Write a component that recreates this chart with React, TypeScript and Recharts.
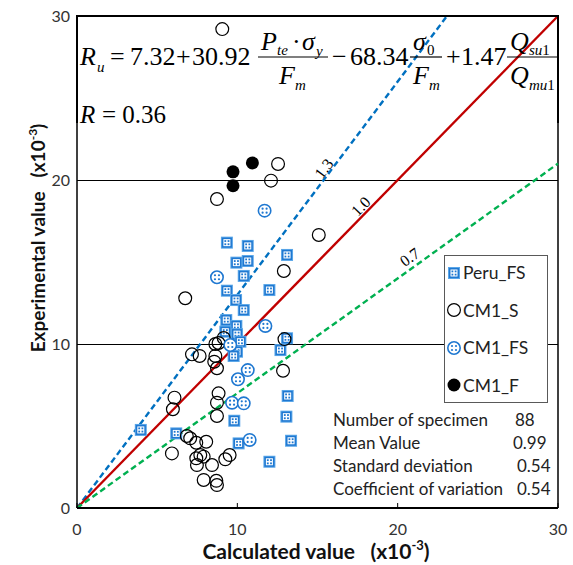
import React from "react";
import {
  ScatterChart,
  Scatter,
  XAxis,
  YAxis,
  CartesianGrid,
  ReferenceLine,
  ReferenceDot,
  Legend,
} from "recharts";

// Points are [calculated, experimental], both in units of 1e-3
const peruFS: [number, number][] = [
  [9.35, 16.18], [10.65, 15.98], [9.94, 14.96], [10.65, 15.06], [13.1, 15.43],
  [10.4, 14.15], [9.35, 13.25], [12.0, 13.29], [9.92, 12.68], [10.4, 12.07],
  [9.31, 11.46], [9.94, 11.1], [9.25, 10.75], [9.98, 10.6], [10.19, 10.14],
  [9.98, 9.53], [9.77, 9.27], [13.1, 10.35], [12.69, 9.63], [13.14, 6.83],
  [13.06, 5.57], [13.35, 4.1], [12.0, 2.82], [9.81, 5.32], [10.08, 3.94],
  [3.98, 4.76], [6.19, 4.55],
];

const cm1S: [number, number][] = [
  [9.06, 29.2], [12.54, 20.98], [12.1, 19.96], [8.73, 18.84], [15.08, 16.65],
  [12.9, 14.45], [6.75, 12.79], [12.94, 10.3], [12.85, 8.37], [7.17, 9.37],
  [7.65, 9.27], [8.63, 10.0], [8.83, 10.06], [9.15, 10.37], [8.63, 9.27],
  [8.56, 8.92], [8.73, 8.52], [6.08, 6.73], [5.98, 6.02], [8.83, 6.99],
  [8.73, 6.42], [8.73, 5.61], [5.92, 3.33], [6.85, 4.39], [7.06, 4.25],
  [7.44, 3.98], [8.06, 4.04], [7.44, 3.03], [7.69, 3.23], [7.9, 3.13],
  [7.48, 2.62], [8.42, 2.62], [9.25, 2.97], [9.52, 3.23], [7.9, 1.71],
  [8.69, 1.66], [8.73, 1.4],
];

const cm1FS: [number, number][] = [
  [11.7, 18.13], [8.73, 14.07], [11.75, 11.1], [9.56, 9.94], [10.65, 8.41],
  [10.04, 7.85], [9.67, 6.42], [10.4, 6.38], [10.77, 4.15],
];

const cm1F: [number, number][] = [
  [9.73, 20.5], [9.73, 19.65], [10.94, 21.04],
];

const axisTicks = [0, 10, 20, 30];

// ratio lines y = k·x, with where their tags sit
const ratios = [
  { k: 1.3, label: "1.3", color: "#0070c0", dash: "6 3.5", tagX: 15.4, tagY: 20.7, rot: -53 },
  { k: 1.0, label: "1.0", color: "#c00000", dash: undefined, tagX: 17.7, tagY: 18.4, rot: -45.7 },
  { k: 0.7, label: "0.7", color: "#00b050", dash: "6 3.5", tagX: 20.75, tagY: 15.3, rot: -35.6 },
];

const statNames = ["Number of specimen", "Mean Value", "Standard deviation", "Coefficient of variation"];
const statValues = ["88", "0.99", "0.54", "0.54"];

const toRows = (pts: [number, number][]) => pts.map(([x, y]) => ({ x, y }));

const BLUE = "#1f78d1";

function PeruMark({ cx, cy }: any) {
  return (
    <g transform={`translate(${cx},${cy})`}>
      <rect x={-6} y={-6} width={12} height={12} fill="#5aa6e8" />
      <rect x={-5} y={-5} width={10} height={10} fill={BLUE} />
      <rect x={-3.5} y={-3.5} width={7} height={7} fill="#fff" />
      <rect x={-2.5} y={-2.5} width={1.8} height={1.8} fill={BLUE} />
      <rect x={0.7} y={-2.5} width={1.8} height={1.8} fill={BLUE} />
      <rect x={-2.5} y={0.7} width={1.8} height={1.8} fill={BLUE} />
      <rect x={0.7} y={0.7} width={1.8} height={1.8} fill={BLUE} />
    </g>
  );
}

function OpenMark({ cx, cy }: any) {
  return <circle cx={cx} cy={cy} r={6.4} fill="none" stroke="#000" strokeWidth={1.2} />;
}

function DotCircleMark({ cx, cy }: any) {
  return (
    <g transform={`translate(${cx},${cy})`}>
      <circle r={6.2} fill="#fff" stroke={BLUE} strokeWidth={1.6} />
      <circle cx={-2} cy={-2} r={1.1} fill={BLUE} />
      <circle cx={2} cy={-2} r={1.1} fill={BLUE} />
      <circle cx={-2} cy={2} r={1.1} fill={BLUE} />
      <circle cx={2} cy={2} r={1.1} fill={BLUE} />
    </g>
  );
}

function FilledMark({ cx, cy }: any) {
  return <circle cx={cx} cy={cy} r={6.5} fill="#000" />;
}

const legendItems = [
  { name: "Peru_FS", Mark: PeruMark },
  { name: "CM1_S", Mark: OpenMark },
  { name: "CM1_FS", Mark: DotCircleMark },
  { name: "CM1_F", Mark: FilledMark },
];

function LegendBox() {
  return (
    <div
      style={{
        width: 104,
        height: 148,
        border: "1px solid #595959",
        background: "#fff",
        boxSizing: "border-box",
      }}
    >
      {legendItems.map(({ name, Mark }) => (
        <div key={name} style={{ display: "flex", alignItems: "center", height: 37.5, marginTop: name === "Peru_FS" ? -2 : 0 }}>
          <svg width={16} height={16} style={{ marginLeft: 1 }}>
            <Mark cx={8} cy={8} />
          </svg>
          <span style={{ fontFamily: "Lato", fontSize: 17.5, color: "#222", marginLeft: 1 }}>{name}</span>
        </div>
      ))}
    </div>
  );
}

function RatioTag({ viewBox, text, rot }: any) {
  const x = viewBox.x + (viewBox.width || 0) / 2;
  const y = viewBox.y + (viewBox.height || 0) / 2;
  return (
    <text
      x={x}
      y={y}
      transform={`rotate(${rot} ${x} ${y})`}
      textAnchor="middle"
      dominantBaseline="central"
      fontFamily="Liberation Serif"
      fontSize={16}
      fill="#000"
    >
      {text}
    </text>
  );
}

const serif = "Liberation Serif";

function Formula() {
  const big = 26;
  const sub = 15;
  return (
    <g fontFamily={serif} fill="#000">
      <text x={80} y={65} fontSize={big} fontStyle="italic">R</text>
      <text x={97} y={72} fontSize={sub} fontStyle="italic">u</text>
      <text x={110} y={65} fontSize={big}>=</text>
      <text x={130} y={65} fontSize={big}>7.32</text>
      <text x={176} y={65} fontSize={big}>+</text>
      <text x={192} y={65} fontSize={big}>30.92</text>

      <line x1={258} x2={328} y1={57} y2={57} stroke="#000" strokeWidth={1.2} />
      <text x={261} y={50} fontSize={big} fontStyle="italic">P</text>
      <text x={277} y={55} fontSize={sub} fontStyle="italic">te</text>
      <text x={292} y={50} fontSize={big}>·</text>
      <text x={302} y={50} fontSize={big} fontStyle="italic">σ</text>
      <text x={316} y={56} fontSize={sub} fontStyle="italic">y</text>
      <text x={279} y={84} fontSize={big} fontStyle="italic">F</text>
      <text x={295} y={90} fontSize={sub} fontStyle="italic">m</text>

      <text x={332} y={65} fontSize={big}>−</text>
      <text x={350} y={65} fontSize={big}>68.34</text>

      <line x1={410} x2={442} y1={57} y2={57} stroke="#000" strokeWidth={1.2} />
      <text x={413} y={50} fontSize={big} fontStyle="italic">σ</text>
      <text x={427} y={55} fontSize={sub}>0</text>
      <text x={413} y={84} fontSize={big} fontStyle="italic">F</text>
      <text x={429} y={90} fontSize={sub} fontStyle="italic">m</text>

      <text x={446} y={65} fontSize={big}>+</text>
      <text x={461} y={65} fontSize={big}>1.47</text>

      <line x1={507} x2={557} y1={57} y2={57} stroke="#000" strokeWidth={1.2} />
      <text x={510} y={50} fontSize={big} fontStyle="italic">Q</text>
      <text x={529} y={55} fontSize={sub} fontStyle="italic">su<tspan fontStyle="normal">1</tspan></text>
      <text x={510} y={84} fontSize={big} fontStyle="italic">Q</text>
      <text x={529} y={90} fontSize={sub} fontStyle="italic">mu<tspan fontStyle="normal">1</tspan></text>

      <text x={80} y={123} fontSize={25} fontStyle="italic">R</text>
      <text x={102} y={123} fontSize={25}>= 0.36</text>
    </g>
  );
}

function Overlay() {
  return (
    <svg
      width={573}
      height={565}
      style={{ position: "absolute", left: 0, top: 0, pointerEvents: "none" }}
    >
      {/* frame of the equation box on top of the plot border */}
      <path d="M77,123 V16 H558 V123" fill="none" stroke="#000" strokeWidth={2} />
      <Formula />

      <g fontFamily="Lato" fontSize={17} fill="#222">
        {statNames.map((n, i) => (
          <text key={n} x={333} y={426 + i * 23}>{n}</text>
        ))}
        {statValues.map((v, i) => (
          <text key={i} x={i === 0 ? 515 : i === 1 ? 513 : 517} y={426 + i * 23}>{v}</text>
        ))}
      </g>

      <text x={316} y={559} textAnchor="middle" fontFamily="Lato" fontWeight="bold" fontSize={21} fill="#111">
        Calculated value{"\u00a0\u00a0\u00a0"}(x10<tspan fontSize={13} dy={-9}>-3</tspan>
        <tspan dy={9}>)</tspan>
      </text>
      <text
        x={45}
        y={238}
        transform="rotate(-90 45 238)"
        textAnchor="middle"
        fontFamily="Lato"
        fontWeight="bold"
        fontSize={19}
        fill="#111"
      >
        Experimental value{"\u00a0\u00a0\u00a0"}(x10<tspan fontSize={12} dy={-8}>-3</tspan>
        <tspan dy={8}>)</tspan>
      </text>
    </svg>
  );
}

export default function App() {
  return (
    <div style={{ position: "absolute", left: 0, top: 0, width: 573, height: 565, background: "#fff" }}>
      <ScatterChart width={573} height={565} margin={{ top: 16, right: 15, bottom: 0, left: 0 }}>
        <CartesianGrid vertical={false} stroke="#000" strokeWidth={1} shapeRendering="crispEdges" />
        <XAxis
          type="number"
          dataKey="x"
          domain={[0, 30]}
          ticks={axisTicks}
          height={57}
          tickSize={-5}
          tickMargin={21}
          axisLine={{ stroke: "#000", strokeWidth: 2 }}
          tickLine={{ stroke: "#000" }}
          tick={{ fill: "#333", fontSize: 16, fontFamily: "Lato" }}
          allowDataOverflow
        />
        <YAxis
          type="number"
          dataKey="y"
          domain={[0, 30]}
          ticks={axisTicks}
          width={77}
          tickSize={0}
          tickMargin={7}
          tickLine={false}
          axisLine={{ stroke: "#000", strokeWidth: 1.5 }}
          tick={{ fill: "#333", fontSize: 16, fontFamily: "Lato" }}
          allowDataOverflow
        />
        <ReferenceLine x={30} stroke="#000" strokeWidth={1.5} />
        {ratios.map((r) => (
          <ReferenceLine
            key={r.label}
            segment={[{ x: 0, y: 0 }, { x: Math.min(30, 30 / r.k), y: Math.min(30, 30 * r.k) }]}
            stroke={r.color}
            strokeWidth={2.4}
            strokeDasharray={r.dash}
          />
        ))}
        {ratios.map((r) => (
          <ReferenceDot
            key={"tag" + r.label}
            x={r.tagX}
            y={r.tagY}
            r={1}
            fill="none"
            stroke="none"
            label={<RatioTag text={r.label} rot={r.rot} />}
          />
        ))}
        <Scatter name="Peru_FS" data={toRows(peruFS)} shape={(p: any) => <PeruMark {...p} />} isAnimationActive={false} />
        <Scatter name="CM1_S" data={toRows(cm1S)} shape={(p: any) => <OpenMark {...p} />} isAnimationActive={false} />
        <Scatter name="CM1_FS" data={toRows(cm1FS)} shape={(p: any) => <DotCircleMark {...p} />} isAnimationActive={false} />
        <Scatter name="CM1_F" data={toRows(cm1F)} shape={(p: any) => <FilledMark {...p} />} isAnimationActive={false} />
        <Legend
          layout="horizontal"
          align="center"
          verticalAlign="middle"
          content={() => <LegendBox />}
          wrapperStyle={{ position: "absolute", left: 444, top: 255, width: 104, height: 148 }}
        />
      </ScatterChart>
      <Overlay />
    </div>
  );
}
